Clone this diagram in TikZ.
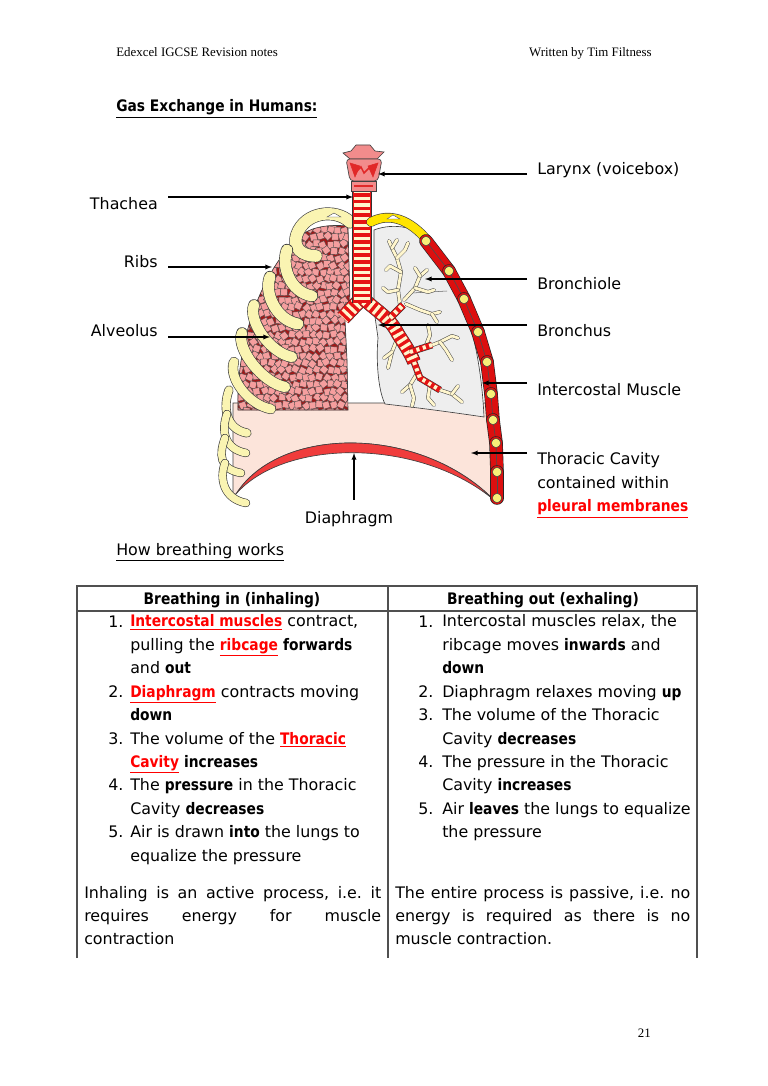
\documentclass[tikz,border=0pt]{standalone}
\usepackage{fontspec}
\setmainfont{DejaVu Sans}[BoldFeatures={FakeStretch=0.87}]
\newfontfamily\headfont{Liberation Serif}

\definecolor{cavpink}{RGB}{252,228,218}
\definecolor{diared}{RGB}{240,60,60}
\definecolor{lungpink}{RGB}{245,158,158}
\definecolor{lungdark}{RGB}{160,25,25}
\definecolor{lunggrey}{RGB}{238,238,238}
\definecolor{ribyel}{RGB}{250,244,178}
\definecolor{collaryel}{RGB}{255,228,0}
\definecolor{tubered}{RGB}{230,20,20}
\definecolor{tubecream}{RGB}{255,246,205}
\definecolor{musclered}{RGB}{220,15,15}
\definecolor{jointyel}{RGB}{248,240,120}
\definecolor{larynxpink}{RGB}{242,140,140}
\definecolor{larynxdeep}{RGB}{225,40,40}
\definecolor{keyred}{RGB}{255,0,0}
\definecolor{tablegray}{RGB}{80,80,80}

\newcommand\txtsize{\fontsize{12.3}{18.14}\selectfont\frenchspacing}
\newcommand\redword[1]{\textcolor{keyred}{\underline{\textbf{#1}}}}

\begin{document}
\begin{tikzpicture}[x=0.7751pt, y=-0.7751pt,
  lbl/.style={font=\txtsize, inner ysep=0pt, inner xsep=7.75pt},
  cell/.style={font=\txtsize, inner sep=0pt},
  head/.style={font=\headfont\fontsize{10}{12}\selectfont, inner sep=0pt},
  pointer/.style={-latex, line width=0.8pt},
  tablerule/.style={draw=tablegray, line width=0.9pt},
  organ/.style={draw=black!75, line width=0.5pt},
  rib/.style={draw=ribyel, line width=#1, line cap=round, preaction={draw=black!75, line width=#1+1pt, line cap=round}},
  rib/.default=6pt,
  collar/.style={draw=collaryel, line width=6.5pt, line cap=round, preaction={draw=black!75, line width=7.5pt, line cap=round}},
  tube/.style={draw=tubered, line width=#1, preaction={draw=black!80, line width=#1+0.8pt}, postaction={draw=tubecream, line width=#1-1.4pt, dash pattern=on 2.4pt off 2.8pt}},
  twig/.style={draw=tubecream, line width=2.2pt, line cap=round, line join=round, preaction={draw=black!70, line width=3pt, line cap=round, line join=round}},
  muscle/.style={draw=musclered, line width=9.5pt, line cap=round, preaction={draw=black!85, line width=10.5pt, line cap=round}, postaction={draw=black!70, line width=0.5pt}},
  joint/.style={fill=jointyel, draw=black!75, line width=0.4pt},
  alvcell/.style={fill=lungpink, draw=black!70, line width=0.3pt},
]
\useasboundingbox[fill=white] (0,0) rectangle (768,1086);

% page header
\node[head, anchor=base west] (hdleft) at (116,57) {Edexcel IGCSE Revision notes};
\node[head, anchor=base east] (hdright) at (652,57) {Written by Tim Filtness};
\node[cell, anchor=base west] (title) at (116,112) {\underline{\textbf{Gas Exchange in Humans:}}};

% thoracic cavity and diaphragm
\filldraw[organ, fill=cavpink] (233,403) -- (497,403) -- (497,500) -- (494,500) .. controls (420,425) and (280,425) .. (236,494) -- (233,494) -- cycle;
\filldraw[organ, fill=diared] (236,494) .. controls (280,425) and (420,425) .. (494,500) .. controls (420,438) and (285,438) .. (236,494) -- cycle;

% left lung, alveoli
\begin{scope}
\clip (348,226) -- (350,303) -- (345,320) -- (347,360) -- (348,410) -- (238,410) .. controls (236,340) and (262,270) .. (300,236) .. controls (310,228) and (325,224) .. (348,226) -- cycle;
\fill[lungdark] (230,220) rectangle (355,415);
\pgfmathsetseed{21}
\foreach \i in {0,...,17}{
  \foreach \j in {0,...,27}{
    \pgfmathsetmacro\cx{236+\i*7+1.2*rand+mod(\j,2)*3.5}
    \pgfmathsetmacro\cy{223+\j*7+1.2*rand}
    \pgfmathsetmacro\rot{45*rand}
    \filldraw[alvcell, rotate around={\rot:(\cx,\cy)}] (\cx-3.5,\cy-3.2) -- (\cx+3.2,\cy-3.5) -- (\cx+3.6,\cy+3.1) -- (\cx-3.1,\cy+3.5) -- cycle;
  }
}
\end{scope}
\draw[organ] (348,226) -- (350,303) -- (345,320) -- (347,360) -- (348,410) -- (238,410) .. controls (236,340) and (262,270) .. (300,236) .. controls (310,228) and (325,224) .. (348,226) -- cycle;

% right lung
\filldraw[organ, fill=lunggrey] (374,230) .. controls (395,222) and (418,228) .. (428,240) .. controls (455,270) and (480,330) .. (484,417) .. controls (450,412) and (420,408) .. (385,404) .. controls (378,390) and (376,360) .. (378,338) -- (374,310) -- cycle;
\draw[black!60, line width=0.4pt] (412,293) -- (447,291);

% bronchioles
\draw[twig] (400,305) -- (398,290) -- (401,272) -- (397,258) -- (392,248) -- (389,241);
\draw[twig] (397,258) -- (405,250) -- (408,243);
\draw[twig] (392,248) -- (397,240);
\draw[twig] (401,272) -- (390,266) -- (386,270);
\draw[twig] (398,290) -- (388,292) -- (383,288);
\draw[twig] (404,300) -- (415,288) -- (420,276) -- (427,270);
\draw[twig] (420,276) -- (415,268);
\draw[twig] (415,288) -- (428,292) -- (434,290);
\draw[twig] (406,304) -- (420,310) -- (432,314) -- (440,312);
\draw[twig] (432,314) -- (437,322);
\draw[twig] (398,337) -- (392,352) -- (388,368);
\draw[twig] (392,352) -- (384,358);
\draw[twig] (412,353) -- (425,348) -- (440,342) -- (452,336) -- (458,338);
\draw[twig] (440,342) -- (446,350) -- (452,360);
\draw[twig] (425,348) -- (430,335) -- (428,325);
\draw[twig] (418,372) -- (410,385) -- (402,392);
\draw[twig] (410,385) -- (414,398) -- (412,406);
\draw[twig] (440,390) -- (452,394) -- (462,402);
\draw[twig] (452,394) -- (458,386);
\draw[twig] (430,385) -- (428,398) -- (434,405);

% ribs
\draw[rib=9pt] (350,222) .. controls (335,208) and (305,212) .. (297,234) .. controls (292,248) and (302,256) .. (316,256);
\foreach \sx/\sy/\tx/\ty/\w in {287/250/312/296/8.5pt, 270/277/298/324/8.5pt, 254/305/292/357/8pt, 242/333/285/387/8pt, 234/362/271/409/7pt, 229/390/247/433/6pt, 227/414/246/453/5.5pt, 225/438/241/473/5.5pt, 225/463/246/503/5.5pt}{
  \draw[rib=\w] (\sx,\sy) .. controls (\sx-6,\sy+16) and (\tx-22,\ty-4) .. (\tx,\ty);
}
\filldraw[white, draw=black!70, line width=0.3pt] (327,217) -- (334,213) -- (341,217) -- cycle;

% airways
\draw[tube=11pt] (362,298) -- (343,318);
\draw[tube=10pt] (365,300) .. controls (378,312) and (390,318) .. (398,334) .. controls (405,345) and (410,352) .. (414,362);
\draw[tube=5pt] (390,318) -- (403,305);
\draw[tube=4.5pt] (410,352) -- (432,345);
\draw[tube=4.5pt] (414,362) -- (420,378) -- (440,390);
\draw[tube=14.5pt] (362,190) -- (362,303);

% larynx
\filldraw[organ, fill=larynxpink] (343,153) -- (351,151) -- (356,145) -- (370,145) -- (375,151) -- (384,152) -- (377,159) -- (350,159) -- cycle;
\filldraw[organ, fill=larynxpink, rounded corners=3pt] (346,159) -- (382,159) -- (378,181) -- (350,181) -- cycle;
\filldraw[larynxdeep] (350,163) -- (360,166) -- (355,177) -- cycle;
\filldraw[larynxdeep] (378,163) -- (368,166) -- (373,177) -- cycle;
\draw[larynxdeep, line width=1.2pt] (356,172) -- (361,167) -- (364,173) -- (369,168);
\filldraw[organ, fill=larynxpink] (351,181) rectangle (376,191);
\draw[larynxdeep, line width=0.8pt] (354,186) -- (373,186);

% intercostal muscles
\draw[collar] (371,222) .. controls (390,212) and (410,220) .. (427,240);
\filldraw[white, draw=black!70, line width=0.3pt] (387,219) -- (393,215) -- (400,219) -- cycle;
\foreach \ax/\ay/\bx/\by in {426/241/449/271, 449/271/464/299, 464/299/478/332, 478/332/487/362, 487/362/491/394, 491/394/493/420, 493/420/496/443, 496/443/497/472, 497/472/497/498}{
  \draw[muscle] (\ax,\ay) -- (\bx,\by);
}
\foreach \jx/\jy in {426/241, 449/271, 464/299, 478/332, 487/362, 491/394, 493/420, 496/443, 497/472, 497/498}{
  \filldraw[joint] (\jx,\jy) circle (3.6pt);
}

% labels
\coordinate (larynxpt) at (378,174);
\coordinate (tracheapt) at (353,197);
\coordinate (ribspt) at (272,267);
\coordinate (alveoluspt) at (270,337);
\coordinate (bronchiolept) at (425,279);
\coordinate (bronchuspt) at (378,325);
\coordinate (musclept) at (482,383);
\coordinate (cavitypt) at (471,453);
\coordinate (diaphragmpt) at (354,453);

\node[lbl, anchor=base west] (larynx) at (527,175) {Larynx (voicebox)};
\node[lbl, anchor=base east] (thachea) at (168,210) {Thachea};
\node[lbl, anchor=base east] (ribs) at (168,268) {Ribs};
\node[lbl, anchor=base east] (alveolus) at (168,337) {Alveolus};
\node[lbl, anchor=base west] (bronchiole) at (527,290) {Bronchiole};
\node[lbl, anchor=base west] (bronchus) at (527,337) {Bronchus};
\node[lbl, anchor=base west] (muscle) at (527,395) {Intercostal Muscle};
% multi-line nodes sit on their last line
\node[lbl, anchor=base west, align=left] (cavity) at (527,511.8) {Thoracic Cavity\\contained within\\\redword{pleural membranes}};
\node[lbl, anchor=base, inner ysep=8.5pt] (diaphragm) at (349,523) {Diaphragm};

\draw[pointer] (larynxpt -| larynx.west) -- (larynxpt);
\draw[pointer] (tracheapt -| thachea.east) -- (tracheapt);
\draw[pointer] (ribspt -| ribs.east) -- (ribspt);
\draw[pointer] (alveoluspt -| alveolus.east) -- (alveoluspt);
\draw[pointer] (bronchiolept -| bronchiole.west) -- (bronchiolept);
\draw[pointer] (bronchuspt -| bronchus.west) -- (bronchuspt);
\draw[pointer] (musclept -| muscle.west) -- (musclept);
\draw[pointer] (cavitypt -| cavity.west) -- (cavitypt);
\draw[pointer] (diaphragmpt |- diaphragm.north) -- (diaphragmpt);

% breathing table
\node[cell, anchor=base west] (howtitle) at (116,555) {\underline{How breathing works}};
\draw[tablerule] (77,958) -- (77,586) -- (697,586) -- (697,958);
\draw[tablerule] (77,611) -- (697,611);
\draw[tablerule] (388,586) -- (388,958);

\node[cell, anchor=base] (inhead) at (232,604) {\textbf{Breathing in (inhaling)}};
\node[cell, anchor=base] (exhead) at (543,604) {\textbf{Breathing out (exhaling)}};

\foreach \n/\y in {1/627,2/697.2,3/744,4/790.8,5/837.6}{
  \node[cell, anchor=base west] (innum\n) at (108,\y) {\n.};
}
\foreach \n/\y in {1/627,2/697.2,3/720.6,4/767.4,5/814.2}{
  \node[cell, anchor=base west] (exnum\n) at (418,\y) {\n.};
}

\node[cell, anchor=base west, align=left] (in1) at (130,673.8) {\redword{Intercostal muscles} contract,\\pulling the \redword{ribcage} \textbf{forwards}\\and \textbf{out}};
\node[cell, anchor=base west, align=left] (in2) at (130,720.6) {\redword{Diaphragm} contracts moving\\\textbf{down}};
\node[cell, anchor=base west, align=left] (in3) at (130,767.4) {The volume of the \redword{Thoracic}\\\redword{Cavity} \textbf{increases}};
\node[cell, anchor=base west, align=left] (in4) at (130,814.2) {The \textbf{pressure} in the Thoracic\\Cavity \textbf{decreases}};
\node[cell, anchor=base west, align=left] (in5) at (130,861) {Air is drawn \textbf{into} the lungs to\\equalize the pressure};

\node[cell, anchor=base west, align=left] (ex1) at (442,673.8) {Intercostal muscles relax, the\\ribcage moves \textbf{inwards} and\\\textbf{down}};
\node[cell, anchor=base west, align=left] (ex2) at (442,697.2) {Diaphragm relaxes moving \textbf{up}};
\node[cell, anchor=base west, align=left] (ex3) at (442,744) {The volume of the Thoracic\\Cavity \textbf{decreases}};
\node[cell, anchor=base west, align=left] (ex4) at (442,790.8) {The pressure in the Thoracic\\Cavity \textbf{increases}};
\node[cell, anchor=base west, align=left] (ex5) at (442,837.6) {Air \textbf{leaves} the lungs to equalize\\the pressure};

\node[cell, anchor=base west, text width=230.2pt, align=justify] (inpara) at (84,898) {Inhaling is an active process, i.e. it\linebreak requires energy for muscle\linebreak contraction};
\node[cell, anchor=base west, text width=228.7pt, align=justify] (expara) at (395,898) {The entire process is passive, i.e. no\linebreak energy is required as there is no\linebreak muscle contraction.};

\node[head, anchor=base east] (pagenum) at (651,1037) {21};
\end{tikzpicture}
\end{document}
